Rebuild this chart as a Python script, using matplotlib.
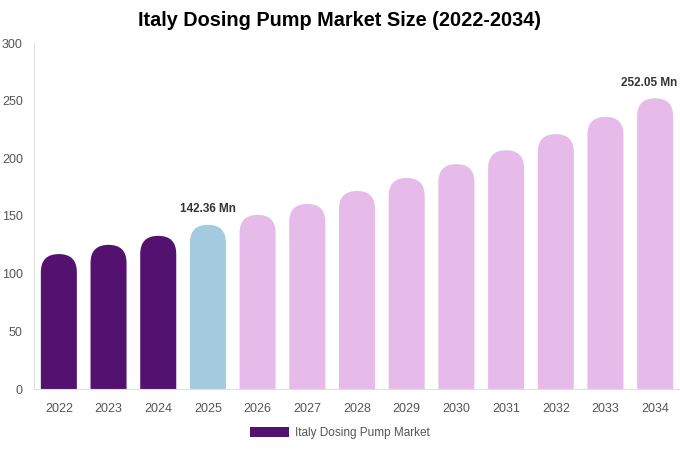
import matplotlib.pyplot as plt
from matplotlib.patches import FancyBboxPatch, Patch

plt.rcParams['font.family'] = ['Liberation Sans', 'DejaVu Sans']

years = ['2022', '2023', '2024', '2025', '2026', '2027', '2028',
         '2029', '2030', '2031', '2032', '2033', '2034']
values = [117.0, 125.0, 132.8, 142.36, 151.0, 160.5, 171.7,
          183.0, 195.0, 207.0, 221.0, 236.0, 252.05]
labelled = {'2025': '142.36 Mn', '2034': '252.05 Mn'}

dark = '#541270'
blue = '#A3CADF'
pink = '#E6BBE9'
colors = [dark] * 3 + [blue] + [pink] * 9

fig = plt.figure(figsize=(6.8, 4.5), dpi=100)
ax = fig.add_axes([34 / 680, 61 / 450, 646 / 680, 346 / 450])
ax.set_xlim(-0.5, len(years) - 0.5)
ax.set_ylim(0, 300)

# rounded tops: radius is half the bar width, converted to y units
width = 0.725
bbox = ax.get_window_extent()
x_per_px = len(years) / bbox.width
y_per_px = 300 / bbox.height
aspect = y_per_px / x_per_px
r = width / 2
for i, (v, c) in enumerate(zip(values, colors)):
    ry = r * aspect
    box = FancyBboxPatch((i - r, -ry), width, v + ry,
                         boxstyle=f'round,pad=0,rounding_size={r}',
                         mutation_aspect=aspect, facecolor=c,
                         edgecolor='none')
    ax.add_patch(box)
    if years[i] in labelled:
        # last label nudged left so it stays inside the figure
        dx = -4 if i == len(years) - 1 else 0
        ax.annotate(labelled[years[i]], (i, v), xytext=(dx, 7),
                    textcoords='offset points', ha='center', va='bottom',
                    fontsize=8.5, fontweight='bold', color='#333333',
                    annotation_clip=False)

ax.set_xticks(range(len(years)))
ax.set_xticklabels(years)
ax.set_yticks(range(0, 301, 50))
ax.tick_params(axis='both', length=0, labelsize=9, labelcolor='#555555')
ax.tick_params(axis='x', pad=10)
ax.tick_params(axis='y', pad=8)
for s in ['top', 'right']:
    ax.spines[s].set_visible(False)
for s in ['left', 'bottom']:
    ax.spines[s].set_color('#e0e0e0')
    ax.spines[s].set_linewidth(0.8)

fig.suptitle('Italy Dosing Pump Market Size (2022-2034)', y=0.975,
             fontsize=14.3, fontweight='bold')
fig.legend(handles=[Patch(facecolor=dark, label='Italy Dosing Pump Market')],
           loc='center', bbox_to_anchor=(0.5, 0.038), frameon=False,
           fontsize=8.5, labelcolor='#555555', handlelength=3.3,
           handleheight=1.0, handletextpad=0.5)

fig.savefig('out.png', dpi=100)
